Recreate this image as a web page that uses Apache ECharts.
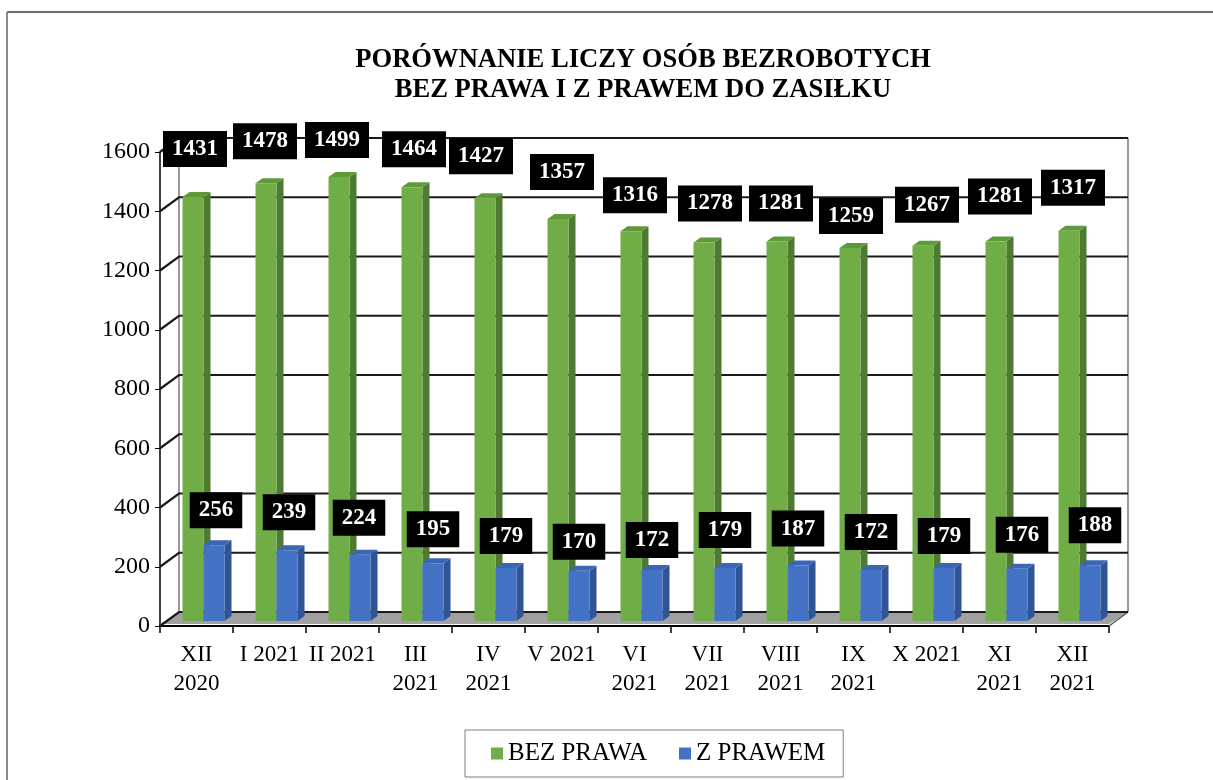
<!DOCTYPE html>
<html><head><meta charset="utf-8">
<script src="https://cdn.jsdelivr.net/npm/echarts/dist/echarts.min.js"></script>
<style>html,body{margin:0;padding:0;background:#fff}#c{width:1213px;height:780px}</style>
</head><body><div id="c"></div>
<script>
// ---- data ----
const categories = ['XII\n2020','I 2021','II 2021','III\n2021','IV\n2021','V 2021','VI\n2021','VII\n2021','VIII\n2021','IX\n2021','X 2021','XI\n2021','XII\n2021'];
const bezPrawa = [1431,1478,1499,1464,1427,1357,1316,1278,1281,1259,1267,1281,1317];
const zPrawem  = [256,239,224,195,179,170,172,179,187,172,179,176,188];
const yTicks   = [0,200,400,600,800,1000,1200,1400,1600];
const seriesNames = ['BEZ PRAWA','Z PRAWEM'];
const titleText = 'PORÓWNANIE LICZY OSÓB BEZROBOTYCH\nBEZ PRAWA I Z PRAWEM DO ZASIŁKU';

// ---- style: label nudges (manual label placement as in the original) ----
const bezLabelNudge = [[2,-25],[-1,-19],[-2,-14],[2,-15],[-4,-19],[4,-24],[4,-13],[6,-16],[4,-15],[1,-9],[4,-18],[4,-22],[4,-20]];
const zLabelNudge   = [[2,-12],[2,-15],[-1,-14],[0,-11],[0,-9],[0,-6],[0,-7],[0,-15],[0,-14],[0,-15],[0,-9],[5,-11],[5,-17]];

const DEPTH = [19,-14];   // back wall offset
const BAR_DEPTH = [7,-5];
const BAR_W = 21;
const GREEN = '#70AD47', GREEN_SIDE = '#4E7A31', GREEN_TOP = '#5F9A3A';
const BLUE = '#4472C4', BLUE_SIDE = '#2F5597', BLUE_TOP = '#3B66B5';
const FONT = 'Liberation Serif';

const chart = echarts.init(document.getElementById('c'));

function frameItem(params, api){
  const cs = params.coordSys;
  const v = api.value(0);
  const y = api.coord([0, v])[1];
  const x0 = cs.x, x1 = cs.x + cs.width;
  const children = [];
  if (v === 0) {
    const yTop = api.coord([0, 1600])[1];
    children.push({type:'polygon', shape:{points:[[x0,y-2],[x1,y-2],[x1+DEPTH[0],y+DEPTH[1]],[x0+DEPTH[0],y+DEPTH[1]]]},
      style:{fill:'#A0A0A0'}});
    children.push({type:'line', shape:{x1:x0+DEPTH[0],y1:y+DEPTH[1],x2:x0+DEPTH[0],y2:yTop+DEPTH[1]}, style:{stroke:'#9a9a9a',lineWidth:2}});
    children.push({type:'line', shape:{x1:x1+DEPTH[0],y1:y+DEPTH[1],x2:x1+DEPTH[0],y2:yTop+DEPTH[1]}, style:{stroke:'#9a9a9a',lineWidth:2}});
    children.push({type:'line', shape:{x1:x1,y1:y,x2:x1+DEPTH[0],y2:y+DEPTH[1]}, style:{stroke:'#555',lineWidth:1.5}});
  }
  children.push({type:'polyline', shape:{points:[[x0,y],[x0+DEPTH[0],y+DEPTH[1]],[x1+DEPTH[0],y+DEPTH[1]]]},
    style:{stroke:'#1a1a1a',lineWidth:2.2,fill:null}});
  return {type:'group', children};
}

function faces(which){
  return function(params, api){
    const i = api.value(0), v = api.value(1);
    const p = api.coord([i, v]);
    const b = api.coord([i, 0]);
    const l = which === 0 ? p[0] - BAR_W : p[0];
    const r = l + BAR_W;
    const top = p[1], base = b[1];
    const dx = BAR_DEPTH[0], dy = BAR_DEPTH[1];
    return {type:'group', children:[
      {type:'polygon', shape:{points:[[r,top],[r+dx,top+dy],[r+dx,base+dy],[r,base]]},
        style:{fill: which===0?GREEN_SIDE:BLUE_SIDE}},
      {type:'polygon', shape:{points:[[l,top],[l+dx,top+dy],[r+dx,top+dy],[r,top]]},
        style:{fill: which===0?GREEN_TOP:BLUE_TOP}}
    ]};
  };
}

const labelBase = {show:true, position:'top', distance:5, formatter:'{c}', backgroundColor:'#000', color:'#fff',
  fontWeight:'bold', fontFamily:FONT, fontSize:23, lineHeight:24, padding:[6,9]};

chart.setOption({
  animation:false,
  backgroundColor:'#fff',
  title:{text:titleText, left:638, top:40, textAlign:'center',
    textStyle:{fontFamily:FONT, fontWeight:'bold', fontSize:26.6, lineHeight:30, color:'#000'}},
  legend:{data:seriesNames, left:465, top:730, icon:'rect', itemWidth:12, itemHeight:12, itemGap:32,
    borderColor:'#7f7f7f', borderWidth:1, padding:[11,18,11,26],
    textStyle:{fontFamily:FONT, fontSize:25, color:'#000'}},
  graphic:[
    {type:'line', shape:{x1:7,y1:12,x2:1213,y2:12}, style:{stroke:'#6b6b6b',lineWidth:2}},
    {type:'line', shape:{x1:7,y1:12,x2:7,y2:780}, style:{stroke:'#8a8a8a',lineWidth:2}}
  ],
  grid:[
    {left:160, top:152, width:949, height:474},
    {left:160+BAR_DEPTH[0], top:152+BAR_DEPTH[1], width:949, height:474}
  ],
  xAxis:[
    {type:'category', gridIndex:0, data:categories,
      axisLine:{lineStyle:{color:'#000',width:2}},
      axisTick:{show:true,length:7,lineStyle:{color:'#000',width:1.5}},
      axisLabel:{interval:0, fontFamily:FONT, fontSize:23, lineHeight:29, color:'#000', margin:14}},
    {type:'category', gridIndex:1, data:categories, show:false}
  ],
  yAxis:[
    {type:'value', gridIndex:0, min:0, max:1600, interval:200,
      axisLine:{show:true, lineStyle:{color:'#000',width:1.5}},
      axisTick:{show:true, length:5, lineStyle:{color:'#000'}},
      axisLabel:{fontFamily:FONT, fontSize:24, color:'#000', margin:10, formatter:(v)=>String(v)},
      splitLine:{show:false}},
    {type:'value', gridIndex:1, min:0, max:1600, interval:200, show:false, splitLine:{show:false}}
  ],
  series:[
    {type:'custom', name:'frame', xAxisIndex:0, yAxisIndex:0, z:1, silent:true,
      renderItem:frameItem, data:yTicks.map(v=>[v])},
    {type:'custom', name:'bez3d', xAxisIndex:1, yAxisIndex:1, z:2, silent:true,
      renderItem:faces(0), data:bezPrawa.map((v,i)=>[i,v])},
    {type:'custom', name:'z3d', xAxisIndex:1, yAxisIndex:1, z:3, silent:true,
      renderItem:faces(1), data:zPrawem.map((v,i)=>[i,v])},
    {type:'bar', name:seriesNames[0], xAxisIndex:1, yAxisIndex:1, z:4, barWidth:BAR_W, barGap:'0%',
      itemStyle:{color:GREEN}, label:labelBase,
      data:bezPrawa.map((v,i)=>({value:v, label:{offset:bezLabelNudge[i]}}))},
    {type:'bar', name:seriesNames[1], xAxisIndex:1, yAxisIndex:1, z:4, barWidth:BAR_W, barGap:'0%',
      itemStyle:{color:BLUE}, label:labelBase,
      data:zPrawem.map((v,i)=>({value:v, label:{offset:zLabelNudge[i]}}))}
  ]
});
</script></body></html>
